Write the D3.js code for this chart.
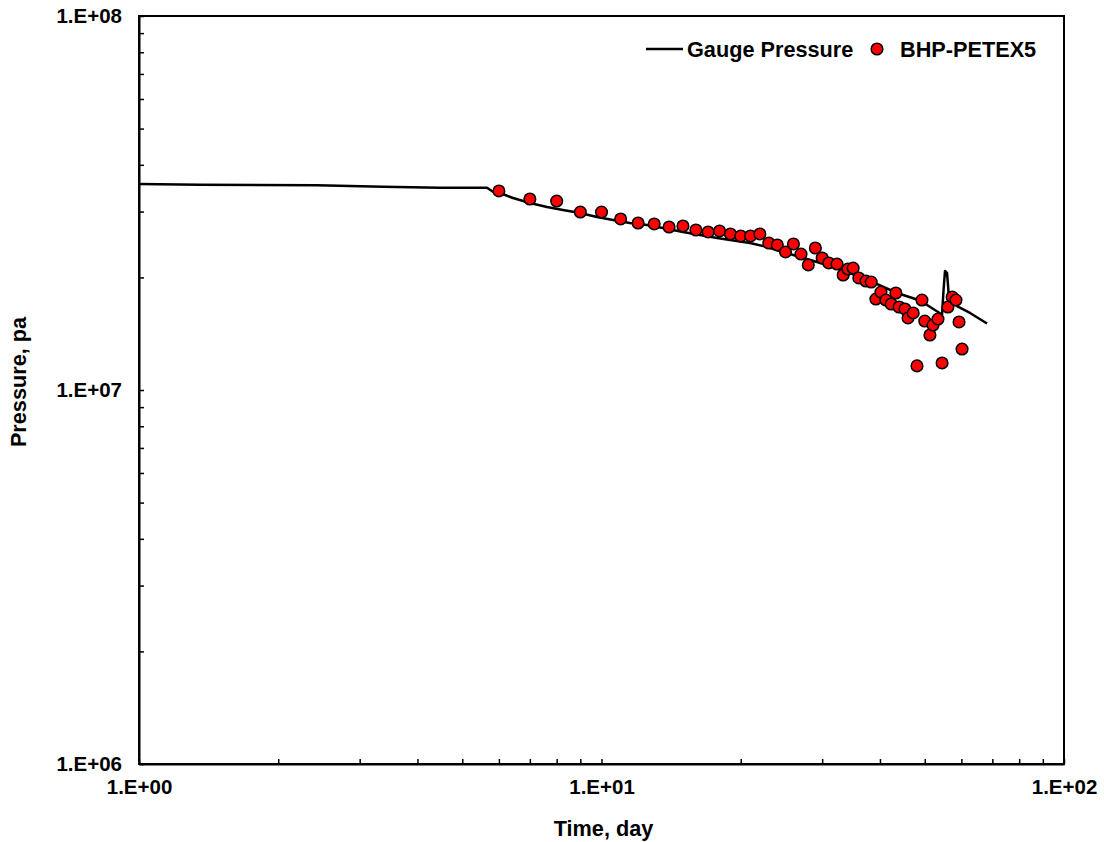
<!DOCTYPE html>
<html>
<head>
<meta charset="utf-8">
<script src="https://cdn.jsdelivr.net/npm/d3@7"></script>
<style>
  body { margin: 0; background: #fff; }
  text { font-family: Arial, "Liberation Sans", sans-serif; font-weight: bold; }
</style>
</head>
<body>
<svg id="chart" width="1104" height="842"></svg>
<script>
// 压力计数据 (day, pa)
const gaugeDays = [1, 1.355, 2.426, 3.37, 4.476, 5.655, 5.827, 6.032, 6.437, 7.005, 7.623, 8.255, 8.985, 9.779,
    10.59, 11.52, 12.54, 13.38, 15.01, 17.77, 20.95, 22.8, 24.69, 26.87, 29.24, 31.2, 34.45, 39.03, 43.55,
    48.83, 53.41, 54.49, 54.9, 55.3, 55.85, 56.13, 56.41, 58.69, 62.63, 68.17];
const gaugePa = [3.554e7, 3.539e7, 3.526e7, 3.496e7, 3.474e7, 3.474e7, 3.39e7, 3.363e7, 3.262e7, 3.162e7, 3.085e7,
    3.029e7, 2.973e7, 2.901e7, 2.848e7, 2.796e7, 2.762e7, 2.72e7, 2.646e7, 2.549e7, 2.472e7, 2.412e7, 2.339e7,
    2.268e7, 2.199e7, 2.152e7, 2.055e7, 1.932e7, 1.817e7, 1.735e7, 1.617e7, 1.587e7, 1.851e7, 2.081e7, 2.056e7,
    1.909e7, 1.74e7, 1.677e7, 1.607e7, 1.506e7];

// BHP-PETEX5 点
const bhpDays = [6, 7, 8, 9, 10, 11, 12, 13, 14, 15, 16, 17, 18, 19, 20, 21, 22, 23, 24, 25, 26, 27, 28, 29, 30,
    31, 32.3, 33.3, 34.1, 35, 36, 37.3, 38.3, 39.2, 40.2, 41.2, 42.3, 43.3, 44, 45.3, 46, 47.2, 48.1, 49.3, 50,
    51.3, 52.1, 53.4, 54.5, 56.1, 57.3, 58.4, 59.3, 60.2];
const bhpPa = [3.405e7, 3.241e7, 3.201e7, 2.991e7, 2.991e7, 2.866e7, 2.796e7, 2.779e7, 2.728e7, 2.745e7, 2.678e7,
    2.646e7, 2.662e7, 2.613e7, 2.581e7, 2.581e7, 2.613e7, 2.472e7, 2.442e7, 2.339e7, 2.457e7, 2.31e7, 2.159e7,
    2.397e7, 2.254e7, 2.186e7, 2.172e7, 2.03e7, 2.106e7, 2.119e7, 1.993e7, 1.956e7, 1.944e7, 1.751e7, 1.828e7,
    1.74e7, 1.698e7, 1.817e7, 1.667e7, 1.647e7, 1.558e7, 1.607e7, 1.16e7, 1.74e7, 1.529e7, 1.403e7, 1.492e7,
    1.548e7, 1.181e7, 1.667e7, 1.773e7, 1.74e7, 1.52e7, 1.287e7];

const xMajor = [1, 10, 100];
const yMajor = [1e6, 1e7, 1e8];
const seriesNames = ["Gauge Pressure", "BHP-PETEX5"];

const svg = d3.select("#chart");
const plotLeft = 139, plotRight = 1064, plotTop = 16, plotBottom = 764;

const x = d3.scaleLog().domain([1, 100]).range([plotLeft, plotRight]);
const y = d3.scaleLog().domain([1e6, 1e8]).range([plotBottom, plotTop]);

// 小刻度 2..9
const minors = (majors) => {
    let out = [];
    for (let i = 0; i < majors.length - 1; i++) {
        for (let k = 1; k <= 9; k++) out.push(majors[i] * k);
    }
    out.push(majors[majors.length - 1]);
    return out;
};
const fmt = d => {
    const p = Math.log10(d);
    if (Math.abs(p - Math.round(p)) > 1e-9) return "";
    return "1.E+" + String(Math.round(p)).padStart(2, "0");
};

const xAxis = svg.append("g")
    .attr("transform", `translate(0,${plotBottom})`)
    .call(d3.axisBottom(x).tickValues(minors(xMajor)).tickFormat(fmt).tickSizeInner(-5).tickSizeOuter(0).tickPadding(15));
const yAxis = svg.append("g")
    .attr("transform", `translate(${plotLeft},0)`)
    .call(d3.axisLeft(y).tickValues(minors(yMajor)).tickFormat(fmt).tickSizeInner(-5).tickSizeOuter(0).tickPadding(17));

[xAxis, yAxis].forEach(g => {
    g.attr("font-family", null).attr("font-size", null);
    g.selectAll(".tick line").attr("stroke", "#000").attr("stroke-width", 1.5);
    g.selectAll(".domain").attr("stroke", "#000").attr("stroke-width", 2);
    g.selectAll("text").attr("fill", "#000").style("font-size", "20.5px");
});

// 边框
svg.append("rect")
    .attr("x", plotLeft).attr("y", plotTop)
    .attr("width", plotRight - plotLeft).attr("height", plotBottom - plotTop)
    .attr("fill", "none").attr("stroke", "#000").attr("stroke-width", 2);

// 坐标轴标题
svg.append("text")
    .attr("x", (plotLeft + plotRight) / 2 + 2).attr("y", 836)
    .attr("text-anchor", "middle").style("font-size", "21.7px")
    .text("Time, day");
svg.append("text")
    .attr("transform", `translate(26,382) rotate(-90)`)
    .attr("text-anchor", "middle").style("font-size", "21.7px")
    .text("Pressure, pa");

// 压力曲线
const line = d3.line().x(d => x(d[0])).y(d => y(d[1]));
svg.append("path")
    .datum(gaugeDays.map((d, i) => [d, gaugePa[i]]))
    .attr("d", line)
    .attr("fill", "none").attr("stroke", "#000").attr("stroke-width", 2.5)
    .attr("stroke-linejoin", "round");

// 散点
svg.append("g")
    .selectAll("circle")
    .data(bhpDays.map((d, i) => [d, bhpPa[i]]))
    .join("circle")
    .attr("cx", d => x(d[0])).attr("cy", d => y(d[1]))
    .attr("r", 5.8)
    .attr("fill", "#ff0000").attr("stroke", "#000").attr("stroke-width", 1.5);

// 图例
const lg = svg.append("g");
lg.append("line").attr("x1", 646).attr("x2", 683).attr("y1", 49).attr("y2", 49)
    .attr("stroke", "#000").attr("stroke-width", 2.5);
lg.append("text").attr("x", 687).attr("y", 56.5).style("font-size", "21.7px").text(seriesNames[0]);
lg.append("circle").attr("cx", 877).attr("cy", 49).attr("r", 5.8)
    .attr("fill", "#ff0000").attr("stroke", "#000").attr("stroke-width", 1.5);
lg.append("text").attr("x", 900).attr("y", 56.5).style("font-size", "21.7px").text(seriesNames[1]);
</script>
</body>
</html>
